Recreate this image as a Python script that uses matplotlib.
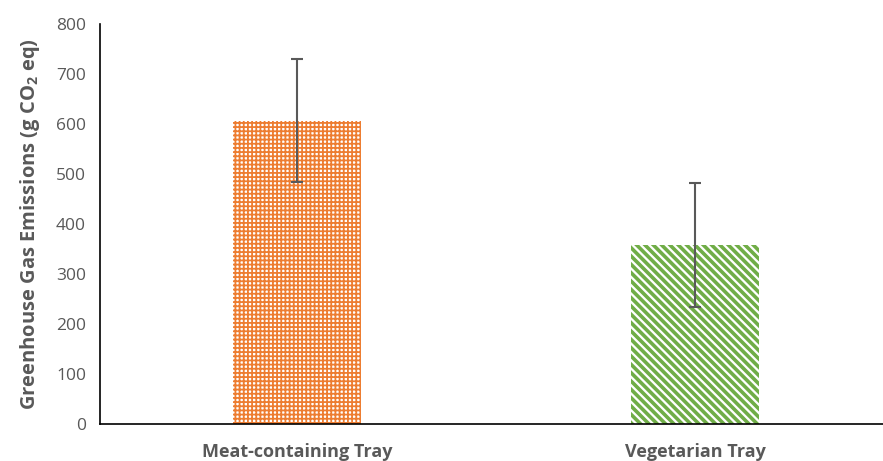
import matplotlib.pyplot as plt
import matplotlib as mpl

categories = ['Meat-containing Tray', 'Vegetarian Tray']
emissions = [606, 358]
errors = [123, 124]
colors = ['#ED7D31', '#70AD47']
hatches = ['++++', '\\\\\\\\']
hatch_widths = [1.3, 2.6]

mpl.rcParams['font.family'] = ['Open Sans', 'DejaVu Sans']
mpl.rcParams['mathtext.fontset'] = 'custom'
mpl.rcParams['mathtext.rm'] = 'Open Sans'
mpl.rcParams['mathtext.bf'] = 'Open Sans:bold'

fig = plt.figure(figsize=(8.83, 4.61), dpi=100)
ax = fig.add_axes([100 / 883, 37 / 461, 783 / 883, 400 / 461])

x = list(range(len(categories)))
for i in x:
    bar = ax.bar(i, emissions[i], width=0.32, facecolor='white', edgecolor=colors[i],
                 hatch=hatches[i], linewidth=0)
    for p in bar.patches:
        p.set_hatch_linewidth(hatch_widths[i])
ax.errorbar(x, emissions, yerr=errors, fmt='none', ecolor='#595959',
            elinewidth=1.5, capsize=4, capthick=1.5)

ax.set_xlim(-0.495, 1.472)
ax.set_ylim(0, 800)
ax.set_yticks(range(0, 801, 100))
ax.set_xticks(x)
ax.set_xticklabels(categories)
ax.tick_params(axis='both', length=0, labelsize=12.5, colors='#595959', pad=10)
ax.tick_params(axis='x', pad=14)
for lab in ax.get_xticklabels():
    lab.set_fontweight('bold')
    lab.set_fontsize(13)
ax.spines['top'].set_visible(False)
ax.spines['right'].set_visible(False)
ax.spines['left'].set_linewidth(1.2)
ax.spines['bottom'].set_linewidth(1.2)
ax.set_ylabel(r'Greenhouse Gas Emissions (g CO$_{\mathbf{2}}$ eq)', fontsize=14.5,
              fontweight='bold', color='#595959', labelpad=10)

fig.savefig('out.png', dpi=100)
